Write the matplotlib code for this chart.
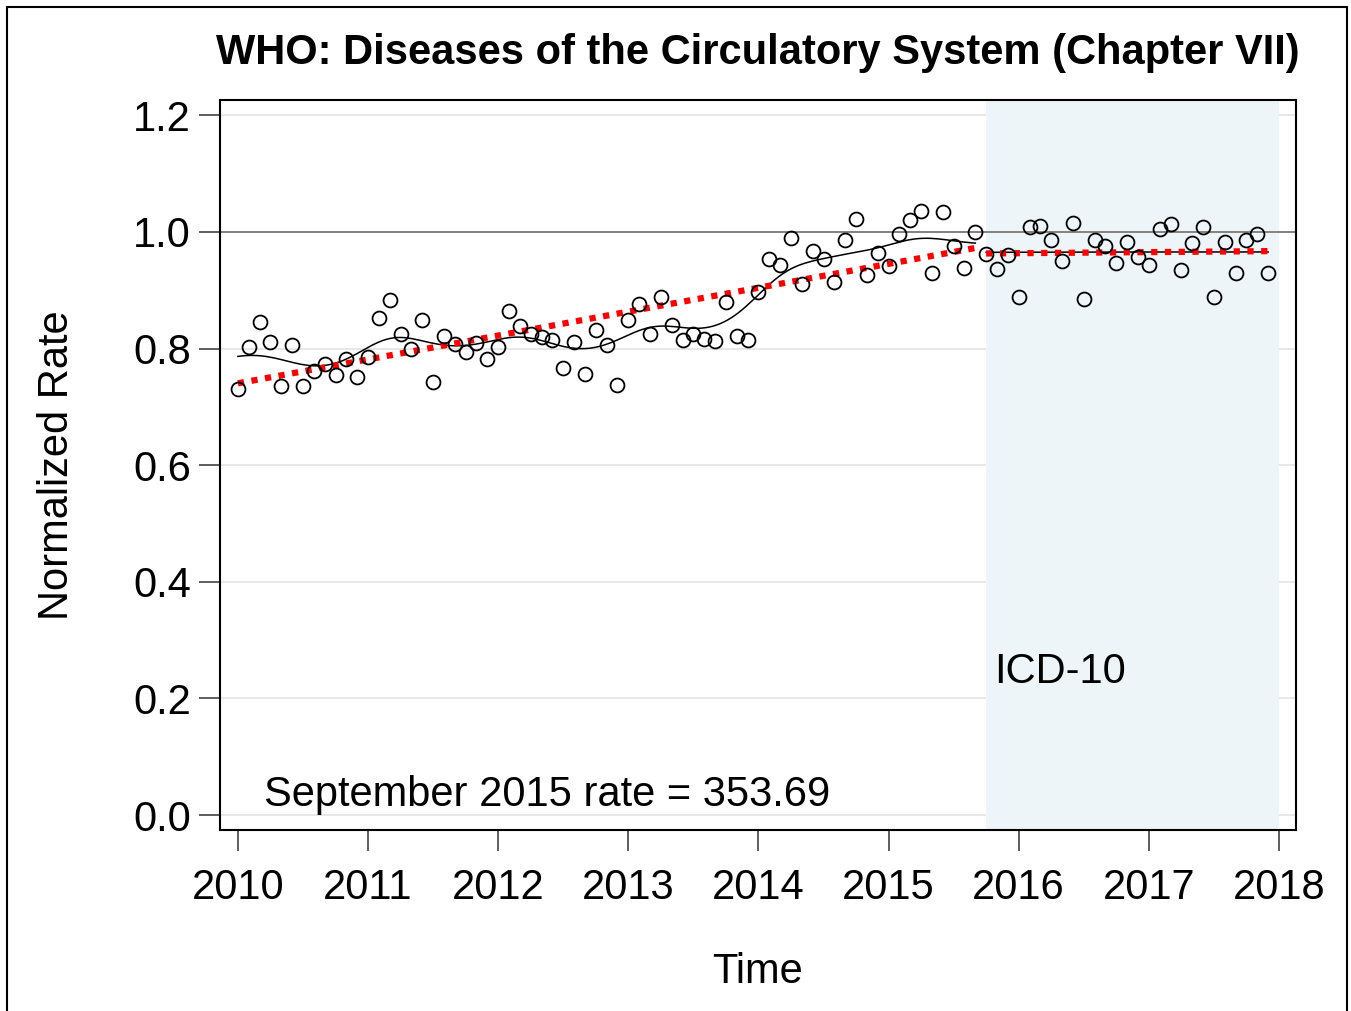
import numpy as np
import matplotlib.pyplot as plt
from matplotlib.patches import Rectangle

plt.rcParams['font.family'] = ['Liberation Sans', 'DejaVu Sans']

# monthly normalized rates, Jan 2010 .. Dec 2017 (Sep 2015 = 1.0)
rate_2010 = [0.731, 0.803, 0.846, 0.811, 0.736, 0.806, 0.736, 0.762, 0.774, 0.755, 0.782, 0.751]
rate_2011 = [0.786, 0.853, 0.883, 0.825, 0.799, 0.849, 0.743, 0.822, 0.808, 0.794, 0.810, 0.782]
rate_2012 = [0.803, 0.864, 0.839, 0.825, 0.820, 0.815, 0.767, 0.811, 0.756, 0.832, 0.806, 0.737]
rate_2013 = [0.849, 0.877, 0.825, 0.889, 0.840, 0.815, 0.825, 0.817, 0.813, 0.880, 0.822, 0.815]
rate_2014 = [0.897, 0.954, 0.943, 0.990, 0.911, 0.967, 0.954, 0.914, 0.986, 1.022, 0.926, 0.964]
rate_2015 = [0.942, 0.997, 1.021, 1.036, 0.930, 1.034, 0.976, 0.938, 1.000, 0.962, 0.937, 0.961]
rate_2016 = [0.889, 1.009, 1.010, 0.986, 0.950, 1.015, 0.885, 0.986, 0.976, 0.947, 0.983, 0.957]
rate_2017 = [0.943, 1.005, 1.014, 0.935, 0.981, 1.009, 0.889, 0.983, 0.930, 0.986, 0.997, 0.930]

rates = np.array(rate_2010 + rate_2011 + rate_2012 + rate_2013 +
                 rate_2014 + rate_2015 + rate_2016 + rate_2017)
months = 2010 + np.arange(len(rates)) / 12.0

icd10_start = 2015 + 9 / 12.0   # October 2015
year_ticks = list(range(2010, 2019))
rate_ticks = [0.0, 0.2, 0.4, 0.6, 0.8, 1.0, 1.2]


def kernel_smooth(x, y, grid, bw):
    w = np.exp(-0.5 * ((grid[:, None] - x[None, :]) / bw) ** 2)
    return (w * y).sum(axis=1) / w.sum(axis=1)


fig = plt.figure(figsize=(13.51, 10.11), dpi=100)
ax = fig.add_axes([0.1628, 0.179, 0.7965, 0.722])

ax.set_xlim(2009.862, 2018.131)
ax.set_ylim(-0.0257, 1.226)

for v in rate_ticks:
    ax.axhline(v, color='#e3e3e3', lw=1.2, zorder=0)
ax.axhline(1.0, color='#7a7a7a', lw=1.3, zorder=1)
ax.axvspan(icd10_start - 0.005, 2018, color='#eef5f9', lw=0, zorder=0.5)

pre = months < icd10_start - 0.01
post = ~pre

# smoothed curves
gx = np.linspace(months[pre][0], months[pre][-1], 200)
ax.plot(gx, kernel_smooth(months[pre], rates[pre], gx, 0.22), color='black', lw=1.1, zorder=2)
gx2 = np.linspace(months[post][0], months[post][-1], 100)
ax.plot(gx2, kernel_smooth(months[post], rates[post], gx2, 1.5), color='black', lw=1.1, zorder=2)

# segmented linear trend
for mask in (pre, post):
    c = np.polyfit(months[mask], rates[mask], 1)
    xs = np.array([months[mask][0], months[mask][-1]])
    ax.plot(xs, np.polyval(c, xs), color='#ff0000', lw=4.5, ls=(0, (1, 1.2)), zorder=3)

ax.plot(months, rates, 'o', ms=10, mfc='none', mec='black', mew=1.3, zorder=4)

ax.text(2010.2, 0.0, 'September 2015 rate = 353.69', fontsize=30, va='bottom', ha='left')
ax.text(icd10_start + 0.06, 0.245, 'ICD-10', fontsize=30, va='center', ha='left')

ax.set_xticks(year_ticks)
ax.set_yticks(rate_ticks)
ax.set_yticklabels([f'{v:.1f}' for v in rate_ticks])
ax.tick_params(axis='both', labelsize=30, length=15, width=1.1, color='#333333')
ax.tick_params(axis='x', pad=12)
ax.tick_params(axis='y', pad=6)
for s in ax.spines.values():
    s.set_linewidth(1.5)

ax.set_xlabel('Time', fontsize=30, labelpad=32)
ax.set_ylabel('Normalized Rate', fontsize=30, labelpad=40)
ax.set_title('WHO: Diseases of the Circulatory System (Chapter VII)',
             fontsize=30, fontweight='bold', pad=26)

fig.patches.append(Rectangle((0.005, -0.01), 0.992, 1.003, transform=fig.transFigure,
                             fill=False, ec='black', lw=1.5))

fig.savefig('out.png', dpi=100)
